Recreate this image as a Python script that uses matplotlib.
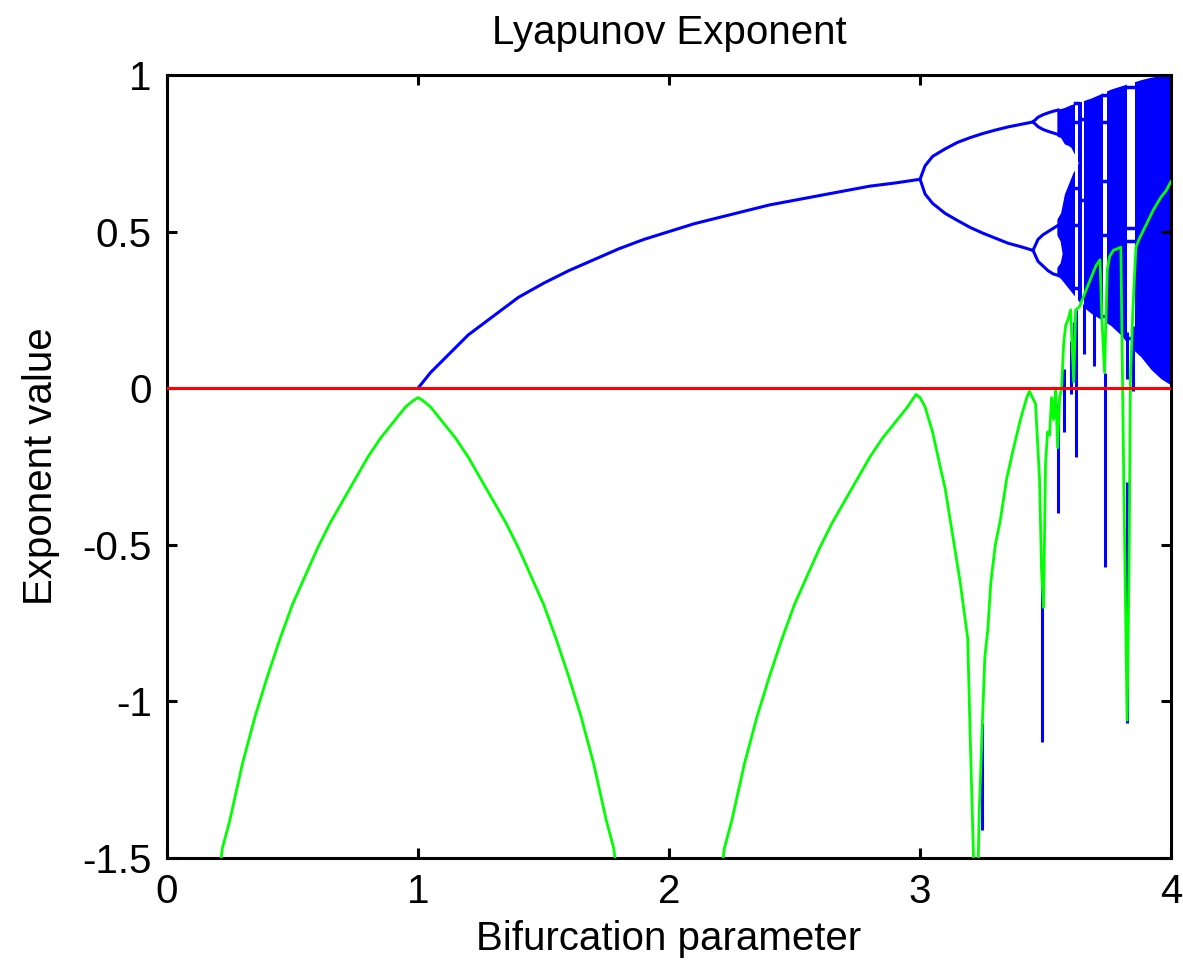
import numpy as np
import matplotlib.pyplot as plt

plt.rcParams['font.family'] = ['Liberation Sans', 'DejaVu Sans']

# ---- bifurcation diagram (blue) ----
r_fixed = [1.0, 1.02, 1.05, 1.1, 1.2, 1.3, 1.4, 1.5, 1.6, 1.7, 1.8, 1.9, 2.0,
           2.1, 2.2, 2.3, 2.4, 2.5, 2.6, 2.7, 2.8, 2.9, 3.0]
x_fixed = [0.0, 0.02, 0.05, 0.09, 0.17, 0.23, 0.29, 0.335, 0.375, 0.41, 0.445,
           0.475, 0.5, 0.525, 0.545, 0.565, 0.585, 0.60, 0.615, 0.63, 0.645,
           0.655, 0.667]

r_p2 = [3.0, 3.02, 3.05, 3.1, 3.15, 3.2, 3.25, 3.3, 3.35, 3.4, 3.45]
x_p2_hi = [0.667, 0.71, 0.74, 0.764, 0.785, 0.80, 0.813, 0.824, 0.834, 0.842, 0.85]
x_p2_lo = [0.667, 0.62, 0.59, 0.558, 0.535, 0.513, 0.495, 0.479, 0.463, 0.452, 0.44]

r_p4 = [3.45, 3.47, 3.49, 3.51, 3.53, 3.55]
x_p4 = [[0.85, 0.865, 0.873, 0.879, 0.884, 0.888],
        [0.85, 0.835, 0.826, 0.82, 0.815, 0.81],
        [0.44, 0.475, 0.49, 0.50, 0.51, 0.52],
        [0.44, 0.405, 0.39, 0.375, 0.365, 0.36]]

# chaotic band envelopes
r_band = [3.545, 3.56, 3.57, 3.58, 3.60, 3.62, 3.65, 3.68, 3.72, 3.76,
          3.80, 3.84, 3.88, 3.92, 3.96, 4.0]
band_top = [0.89, 0.893, 0.895, 0.898, 0.905, 0.91, 0.918, 0.926, 0.94,
            0.955, 0.965, 0.975, 0.985, 0.993, 0.998, 1.0]
band_bot = [0.36, 0.35, 0.34, 0.33, 0.31, 0.29, 0.26, 0.24, 0.22, 0.20,
            0.17, 0.13, 0.10, 0.06, 0.03, 0.01]

# white gaps between band pieces
gap1_r = [3.53, 3.56, 3.575, 3.59, 3.60, 3.61, 3.62, 3.63]
gap1_hi = [0.81, 0.80, 0.78, 0.775, 0.77, 0.755, 0.74, 0.72]
gap1_lo = [0.52, 0.56, 0.62, 0.65, 0.67, 0.69, 0.70, 0.72]
gap2_r = [3.53, 3.558, 3.566]
gap2_hi = [0.51, 0.47, 0.43]
gap2_lo = [0.37, 0.40, 0.43]

# periodic windows: r range and orbit values
win_r0 = [3.617, 3.644, 3.730, 3.823]
win_r1 = [3.630, 3.654, 3.743, 3.857]
win_x = [[0.91, 0.85, 0.64, 0.52, 0.32],
         [0.86, 0.60],
         [0.935, 0.85, 0.66, 0.49, 0.23],
         [0.96, 0.51, 0.47, 0.16]]

# ---- Lyapunov exponent (green) ----
lyap_r = [0.2, 0.22, 0.25, 0.3, 0.35, 0.4, 0.45, 0.5, 0.55, 0.6, 0.65, 0.7,
          0.75, 0.8, 0.85, 0.9, 0.95, 0.98, 1.0, 1.02, 1.05, 1.1, 1.15, 1.2,
          1.25, 1.3, 1.35, 1.4, 1.45, 1.5, 1.55, 1.6, 1.65, 1.7, 1.75, 1.78,
          1.8, 2.0, 2.2, 2.22, 2.25, 2.3, 2.35, 2.4, 2.45, 2.5, 2.55, 2.6,
          2.65, 2.7, 2.75, 2.8, 2.85, 2.9, 2.95, 2.984, 3.0, 3.02, 3.05, 3.08,
          3.10, 3.12, 3.14, 3.16, 3.18, 3.19, 3.20, 3.212, 3.224, 3.236, 3.246,
          3.258, 3.27, 3.282, 3.30, 3.32, 3.345, 3.37, 3.40, 3.425, 3.436,
          3.448, 3.46, 3.468, 3.476, 3.484, 3.492, 3.50, 3.508, 3.516, 3.524,
          3.532, 3.54, 3.548, 3.556, 3.564, 3.572, 3.58, 3.59, 3.60, 3.612,
          3.62, 3.635, 3.65, 3.67, 3.69, 3.70, 3.717, 3.724, 3.735, 3.746,
          3.755, 3.77, 3.80, 3.812, 3.825, 3.833, 3.838, 3.848, 3.86, 3.875,
          3.90, 3.93, 3.96, 3.98, 4.0]
lyap_v = [-1.61, -1.47, -1.38, -1.20, -1.05, -0.92, -0.80, -0.69, -0.60,
          -0.51, -0.43, -0.36, -0.29, -0.22, -0.16, -0.11, -0.06, -0.04, -0.03,
          -0.04, -0.06, -0.11, -0.16, -0.22, -0.29, -0.36, -0.43, -0.51, -0.60,
          -0.69, -0.80, -0.92, -1.05, -1.20, -1.38, -1.47, -1.61, np.nan, -1.61,
          -1.47, -1.38, -1.20, -1.05, -0.92, -0.80, -0.69, -0.60, -0.51, -0.43,
          -0.36, -0.29, -0.22, -0.16, -0.11, -0.06, -0.02, -0.03, -0.06, -0.14,
          -0.25, -0.32, -0.42, -0.52, -0.62, -0.74, -0.80, -1.12, -1.47, -1.8,
          -1.35, -1.12, -0.86, -0.77, -0.62, -0.50, -0.42, -0.29, -0.20, -0.10,
          -0.03, -0.01, -0.03, -0.05, -0.17, -0.29, -0.58, -0.70, -0.24, -0.14,
          -0.15, -0.03, -0.10, 0.0, -0.19, -0.03, 0.0, 0.14, 0.20, 0.22, 0.25,
          0.02, 0.25, 0.26, 0.29, 0.33, 0.37, 0.39, 0.41, 0.23, 0.05, 0.38,
          0.42, 0.44, 0.45, -0.32, -1.06, -0.54, 0.03, 0.25, 0.45, 0.48, 0.52,
          0.57, 0.61, 0.63, 0.66]

# blue exponent spikes: r, low, high
spike_r = [3.248, 3.486, 3.548, 3.572, 3.60, 3.62, 3.615, 3.652, 3.693,
           3.737, 3.823, 3.826, 3.848]
spike_lo = [-1.41, -1.13, -0.40, -0.14, -0.02, -0.22, 0.12, 0.11, 0.07,
            -0.57, -1.07, 0.03, -0.01]
spike_hi = [-1.07, -0.61, -0.05, 0.06, 0.15, 0.25, 0.21, 0.27, 0.24,
            0.05, -0.30, 0.18, 0.20]

fig = plt.figure(figsize=(11.83, 9.71), dpi=100)
ax = fig.add_axes([0.1412, 0.1164, 0.8487, 0.8064])

blue = (0, 0, 1)
ax.fill_between(r_band, band_bot, band_top, color=blue, lw=0, zorder=1)
ax.fill_between(gap1_r, gap1_lo, gap1_hi, color='white', lw=0, zorder=1.5)
ax.fill_between(gap2_r, gap2_lo, gap2_hi, color='white', lw=0, zorder=1.5)
for r0, r1, xs in zip(win_r0, win_r1, win_x):
    ax.axvspan(r0, r1, color='white', lw=0, zorder=1.6)
    for xv in xs:
        ax.plot([r0, r1], [xv, xv], color=blue, lw=2.5, zorder=2)

ax.plot(r_fixed, x_fixed, color=blue, lw=2.2, zorder=2)
ax.plot(r_p2, x_p2_hi, color=blue, lw=2.2, zorder=2)
ax.plot(r_p2, x_p2_lo, color=blue, lw=2.2, zorder=2)
for xs in x_p4:
    ax.plot(r_p4, xs, color=blue, lw=2.2, zorder=2)

ax.vlines(spike_r, spike_lo, spike_hi, color=blue, lw=2.2, zorder=2.5)
ax.plot(lyap_r, lyap_v, color=(0, 1, 0), lw=2, zorder=3)
ax.axhline(0, color=(1, 0, 0), lw=2.2, zorder=4)

ax.set_xlim(0, 4)
ax.set_ylim(-1.5, 1)
ax.set_xticks([0, 1, 2, 3, 4])
ax.set_xticklabels(['0', '1', '2', '3', '4'])
ax.set_yticks([-1.5, -1, -0.5, 0, 0.5, 1])
ax.set_yticklabels(['-1.5', '-1', '-0.5', '0', '0.5', '1'])
ax.tick_params(direction='in', length=7, width=2.2, labelsize=29,
               top=True, right=True, pad=11)
for sp in ax.spines.values():
    sp.set_linewidth(2.2)

ax.set_title('Lyapunov Exponent', fontsize=29, pad=22)
ax.set_xlabel('Bifurcation parameter', fontsize=29, labelpad=6)
ax.set_ylabel('Exponent value', fontsize=29, labelpad=16)

fig.savefig('out.png', dpi=100)
